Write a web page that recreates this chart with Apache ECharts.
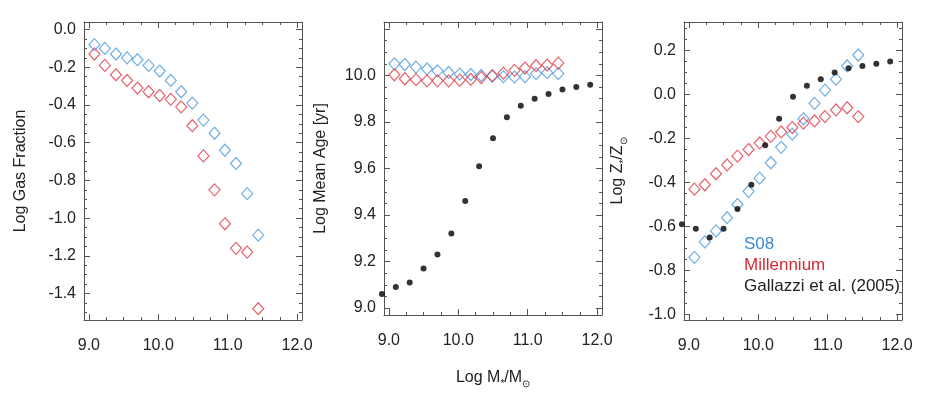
<!DOCTYPE html>
<html>
<head>
<meta charset="utf-8">
<script src="https://cdn.jsdelivr.net/npm/echarts@6/dist/echarts.min.js"></script>
<style>
  html, body { margin: 0; background: #fff; }
  #chart { width: 926px; height: 394px; }
</style>
</head>
<body>
<div id="chart"></div>
<script>
// mass bins (log M*/Msun)
const massBins = [9.08, 9.23, 9.39, 9.55, 9.70, 9.86, 10.02, 10.18, 10.33, 10.49, 10.65, 10.81, 10.96, 11.12, 11.28, 11.44];
const massGallazzi = [8.9, 9.1, 9.3, 9.5, 9.7, 9.9, 10.1, 10.3, 10.5, 10.7, 10.9, 11.1, 11.3, 11.5, 11.7, 11.9];

// panel 1: log gas fraction
const gasS08 = [-0.08, -0.10, -0.13, -0.15, -0.16, -0.19, -0.22, -0.27, -0.33, -0.39, -0.48, -0.55, -0.64, -0.71, -0.87, -1.09];
const gasMil = [-0.13, -0.19, -0.24, -0.27, -0.31, -0.33, -0.35, -0.37, -0.41, -0.51, -0.67, -0.85, -1.03, -1.16, -1.18, -1.48];

// panel 2: log mean age
const ageS08 = [10.050, 10.047, 10.036, 10.028, 10.020, 10.013, 10.006, 10.004, 10.000, 9.997, 9.995, 9.993, 9.995, 10.008, 10.012, 10.008];
const ageMil = [10.003, 9.986, 9.982, 9.977, 9.977, 9.977, 9.980, 9.983, 9.991, 9.999, 10.010, 10.022, 10.032, 10.042, 10.045, 10.053];
const ageGallazzi = [9.06, 9.09, 9.11, 9.17, 9.23, 9.32, 9.46, 9.61, 9.73, 9.82, 9.87, 9.90, 9.92, 9.94, 9.95, 9.96];

// panel 3: log Z/Zsun
const zS08 = [-0.74, -0.67, -0.62, -0.56, -0.50, -0.44, -0.38, -0.31, -0.24, -0.18, -0.11, -0.04, 0.02, 0.07, 0.13, 0.18];
const zMil = [-0.43, -0.41, -0.36, -0.32, -0.28, -0.25, -0.22, -0.19, -0.17, -0.15, -0.13, -0.12, -0.10, -0.07, -0.06, -0.10];
const zGallazzi = [-0.59, -0.61, -0.65, -0.61, -0.52, -0.41, -0.23, -0.11, -0.01, 0.04, 0.07, 0.10, 0.12, 0.13, 0.14, 0.15];

// ticks
const xTicks = [9, 10, 11, 12];
const gasTicks = [0, -0.2, -0.4, -0.6, -0.8, -1.0, -1.2, -1.4];
const ageTicks = [9.0, 9.2, 9.4, 9.6, 9.8, 10.0];
const zTicks = [0.2, 0, -0.2, -0.4, -0.6, -0.8, -1.0];

const FONT = 'Liberation Sans';
const FRAME = '#555';
const BLUE = '#4a9ade';
const RED = '#e03a46';

const panels = [
  { yMin: -1.54, yMax: 0.04, yTicks: gasTicks, yMinor: 0.05, yExtraMajor: [], name: 'Log Gas Fraction' },
  { yMin: 8.97, yMax: 10.23, yTicks: ageTicks, yMinor: 0.05, yExtraMajor: [10.2], name: 'Log Mean Age [yr]' },
  { yMin: -1.025, yMax: 0.33, yTicks: zTicks, yMinor: 0.05, yExtraMajor: [], name: '{a|Log Z}{s|*}{a|/Z}{s|\u2299}' }
];
const xMin = 8.93, xMax = 12.07;

function minorTicks(majors, step, min, max) {
  const out = [];
  for (let v = Math.ceil(min / step) * step; v <= max + 1e-9; v += step) {
    const r = Math.round(v * 1000) / 1000;
    if (!majors.some(m => Math.abs(m - r) < 1e-6)) out.push(r);
  }
  return out;
}

const richName = {
  a: { fontSize: 16, fontFamily: FONT, color: '#222', lineHeight: 22 },
  s: { fontSize: 10, fontFamily: FONT, color: '#222', lineHeight: 10, verticalAlign: 'bottom' }
};

const grids = [], xAxes = [], yAxes = [];
panels.forEach((p, i) => {
  grids.push({ left: 84 + 300 * i, top: 22, width: 218, height: 298, show: false });
  const xMinor = minorTicks(xTicks, 0.25, xMin, xMax);
  ['bottom', 'top'].forEach(pos => {
    xAxes.push({
      gridIndex: i, type: 'value', position: pos, min: xMin, max: xMax,
      axisLine: { show: true, onZero: false, lineStyle: { color: FRAME, width: 1 } },
      axisTick: { show: true, inside: true, length: 6, customValues: xTicks, lineStyle: { color: FRAME } },
      axisLabel: {
        show: pos === 'bottom', customValues: xTicks, margin: 18,
        fontSize: 16, fontFamily: FONT, color: '#222', formatter: v => v.toFixed(1)
      },
      splitLine: { show: false },
      name: (pos === 'bottom' && i === 1) ? '{a|Log M}{s|*}{a|/M}{s|\u2299}' : '',
      nameLocation: 'middle', nameGap: 52,
      nameTextStyle: { rich: richName }
    });
    xAxes.push({
      gridIndex: i, type: 'value', position: pos, min: xMin, max: xMax,
      axisLine: { show: false, onZero: false },
      axisTick: { show: true, inside: true, length: 3, customValues: xMinor, lineStyle: { color: FRAME } },
      axisLabel: { show: false }, splitLine: { show: false }
    });
  });
  const yMaj = p.yTicks.concat(p.yExtraMajor);
  const yMinor = minorTicks(yMaj, p.yMinor, p.yMin, p.yMax);
  ['left', 'right'].forEach(pos => {
    yAxes.push({
      gridIndex: i, type: 'value', position: pos, min: p.yMin, max: p.yMax,
      axisLine: { show: true, onZero: false, lineStyle: { color: FRAME, width: 1 } },
      axisTick: { show: true, inside: true, length: 6, customValues: yMaj, lineStyle: { color: FRAME } },
      axisLabel: {
        show: pos === 'left', customValues: p.yTicks, margin: 8,
        fontSize: 16, fontFamily: FONT, color: '#222', formatter: v => v.toFixed(1)
      },
      splitLine: { show: false },
      name: pos === 'left' ? p.name : '',
      nameLocation: 'middle', nameRotate: 90, nameGap: 55,
      nameTextStyle: { fontSize: 16, fontFamily: FONT, color: '#222', rich: richName }
    });
    yAxes.push({
      gridIndex: i, type: 'value', position: pos, min: p.yMin, max: p.yMax,
      axisLine: { show: false, onZero: false },
      axisTick: { show: true, inside: true, length: 3, customValues: yMinor, lineStyle: { color: FRAME } },
      axisLabel: { show: false }, splitLine: { show: false }
    });
  });
});

function pairs(xs, ys) { return xs.map((x, k) => [x, ys[k]]); }

function diamonds(name, color, i, ys) {
  return {
    name, type: 'scatter', xAxisIndex: 4 * i, yAxisIndex: 4 * i,
    symbol: 'diamond', symbolSize: [11, 12],
    itemStyle: { color: 'rgba(0,0,0,0)', borderColor: color, borderWidth: 1.2 },
    data: pairs(massBins, ys)
  };
}
function dots(i, ys) {
  return {
    name: 'Gallazzi et al. (2005)', type: 'scatter', xAxisIndex: 4 * i, yAxisIndex: 4 * i,
    symbol: 'circle', symbolSize: 6, clip: false,
    itemStyle: { color: '#000' },
    data: pairs(massGallazzi, ys)
  };
}

const series = [
  diamonds('Millennium', RED, 0, gasMil),
  diamonds('S08', BLUE, 0, gasS08),
  diamonds('S08', BLUE, 1, ageS08),
  diamonds('Millennium', RED, 1, ageMil),
  dots(1, ageGallazzi),
  diamonds('S08', BLUE, 2, zS08),
  diamonds('Millennium', RED, 2, zMil),
  dots(2, zGallazzi)
];

const chart = echarts.init(document.getElementById('chart'), null, { renderer: 'canvas' });
chart.setOption({
  animation: false,
  backgroundColor: '#fff',
  grid: grids,
  xAxis: xAxes,
  yAxis: yAxes,
  legend: {
    orient: 'vertical', left: 733, top: 231, itemWidth: 0, itemHeight: 0, itemGap: 4,
    icon: 'rect', selectedMode: false,
    textStyle: { fontSize: 17, fontFamily: FONT },
    data: [
      { name: 'S08', textStyle: { color: '#3a8cd2' } },
      { name: 'Millennium', textStyle: { color: '#d42a34' } },
      { name: 'Gallazzi et al. (2005)', textStyle: { color: '#222' } }
    ]
  },
  series
});
</script>
</body>
</html>
